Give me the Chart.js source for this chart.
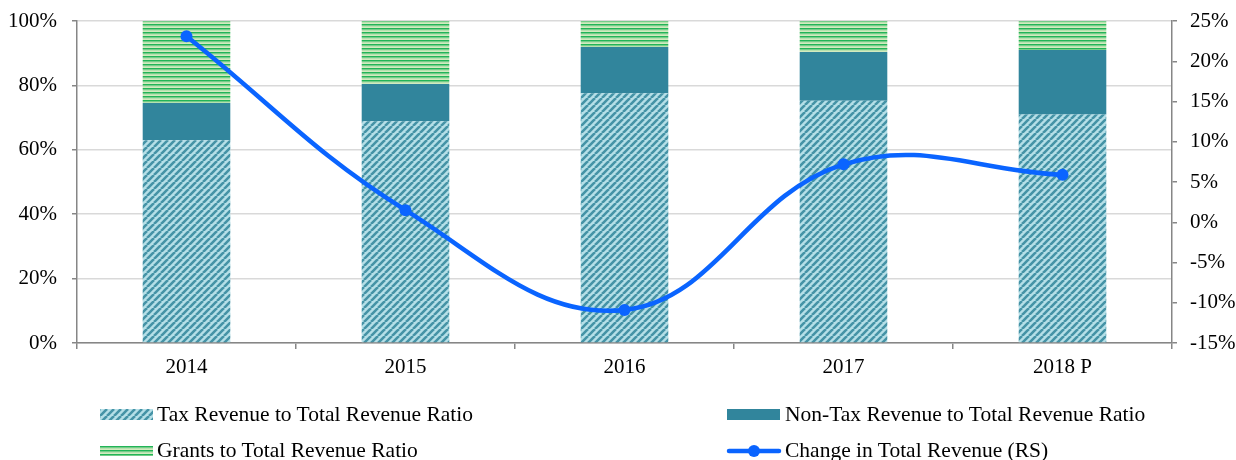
<!DOCTYPE html>
<html>
<head>
<meta charset="utf-8">
<script src="https://cdn.jsdelivr.net/npm/chart.js@4.4.1/dist/chart.umd.min.js"></script>
<style>
  html, body { margin: 0; padding: 0; background: #ffffff; }
  #wrap { position: relative; width: 1236px; height: 460px; }
  #chart { position: absolute; left: 0; top: 0; }
  .leg { position: absolute; font-family: "Liberation Serif", "Times New Roman", serif; font-size: 21.5px; color: #000; white-space: nowrap; line-height: 24px; }
  .sw { position: absolute; }
</style>
</head>
<body>
<div id="wrap">
  <canvas id="chart" width="1236" height="460"></canvas>
  <canvas class="sw" id="swTax" width="53" height="11" style="left:100px;top:409px;"></canvas>
  <div class="leg" style="left:157px;top:402px;">Tax Revenue to Total Revenue Ratio</div>
  <canvas class="sw" id="swNon" width="53" height="11" style="left:727px;top:409px;"></canvas>
  <div class="leg" style="left:785px;top:402px;">Non-Tax Revenue to Total Revenue Ratio</div>
  <canvas class="sw" id="swGr" width="53" height="10" style="left:100px;top:446px;"></canvas>
  <div class="leg" style="left:157px;top:438px;">Grants to Total Revenue Ratio</div>
  <canvas class="sw" id="swLine" width="56" height="14" style="left:726px;top:444px;"></canvas>
  <div class="leg" style="left:785px;top:438px;">Change in Total Revenue (RS)</div>
</div>
<script>
const categories = ['2014', '2015', '2016', '2017', '2018 P'];
const taxRatio = [63.0, 68.9, 77.6, 75.2, 71.0];
const nonTaxRatio = [11.5, 11.5, 14.3, 15.2, 20.0];
const grantsRatio = [25.5, 19.6, 8.1, 9.6, 9.0];
const revenueChange = [23.1, 1.5, -10.9, 7.2, 5.9];

const leftTicks = [0, 20, 40, 60, 80, 100];
const rightTicks = [-15, -10, -5, 0, 5, 10, 15, 20, 25];

const LINE_COLOR = '#0a64ff';
const NONTAX_COLOR = '#31859c';
const AXIS_COLOR = '#868686';
const GRID_COLOR = '#d9d9d9';
const FONT = { family: '"Liberation Serif", "Times New Roman", serif', size: 21 };

function diagTile() {
  const s = 7;
  const c = document.createElement('canvas');
  c.width = s; c.height = s;
  const g = c.getContext('2d');
  g.fillStyle = '#b5dfe7';
  g.fillRect(0, 0, s, s);
  g.strokeStyle = '#4593a6';
  g.lineWidth = 2.6;
  g.beginPath();
  for (const k of [-s, 0, s]) { g.moveTo(k, s); g.lineTo(k + s, 0); }
  g.stroke();
  return c;
}
function horizTile() {
  const c = document.createElement('canvas');
  c.width = 4; c.height = 4;
  const g = c.getContext('2d');
  g.fillStyle = '#d2eabf'; g.fillRect(0, 0, 4, 4);
  g.fillStyle = '#22b457'; g.fillRect(0, 0, 4, 1.6);
  g.fillStyle = '#8ad496'; g.fillRect(0, 1.6, 4, 0.8);
  return c;
}
const ctx = document.getElementById('chart').getContext('2d');
const taxPattern = ctx.createPattern(diagTile(), 'repeat');
const grantPattern = ctx.createPattern(horizTile(), 'repeat');

// legend swatches
(function () {
  const a = document.getElementById('swTax').getContext('2d');
  a.fillStyle = a.createPattern(diagTile(), 'repeat'); a.fillRect(0, 0, 53, 11);
  const b = document.getElementById('swNon').getContext('2d');
  b.fillStyle = NONTAX_COLOR; b.fillRect(0, 0, 53, 11);
  const c = document.getElementById('swGr').getContext('2d');
  c.fillStyle = c.createPattern(horizTile(), 'repeat'); c.fillRect(0, 0, 53, 10);
  const d = document.getElementById('swLine').getContext('2d');
  d.strokeStyle = LINE_COLOR; d.lineWidth = 4.5; d.lineCap = 'round';
  d.beginPath(); d.moveTo(3, 7); d.lineTo(53, 7); d.stroke();
  d.fillStyle = LINE_COLOR; d.beginPath(); d.arc(28, 7, 6, 0, Math.PI * 2); d.fill();
})();

function vFit(width) {
  return s => { s.width = width; s.paddingTop = 0; s.paddingBottom = 0; };
}

new Chart(ctx, {
  type: 'bar',
  data: {
    labels: categories,
    datasets: [
      { type: 'line', label: 'Change in Total Revenue (RS)', data: revenueChange, yAxisID: 'y2',
        borderColor: LINE_COLOR, backgroundColor: LINE_COLOR, borderWidth: 4.5, tension: 0.4,
        pointRadius: 6, pointHoverRadius: 6, pointBackgroundColor: LINE_COLOR, pointBorderWidth: 0, order: 0 },
      { label: 'Tax Revenue to Total Revenue Ratio', data: taxRatio, backgroundColor: taxPattern, yAxisID: 'y', stack: 's', order: 1 },
      { label: 'Non-Tax Revenue to Total Revenue Ratio', data: nonTaxRatio, backgroundColor: NONTAX_COLOR, yAxisID: 'y', stack: 's', order: 1 },
      { label: 'Grants to Total Revenue Ratio', data: grantsRatio, backgroundColor: grantPattern, yAxisID: 'y', stack: 's', order: 1 }
    ]
  },
  options: {
    responsive: false,
    animation: false,
    layout: { padding: { top: 21, right: 0, left: 0, bottom: 0 } },
    datasets: { bar: { categoryPercentage: 1.0, barPercentage: 0.4 } },
    plugins: { legend: { display: false }, tooltip: { enabled: false } },
    scales: {
      x: {
        stacked: true,
        offset: true,
        grid: { offset: true, drawOnChartArea: false, drawTicks: true, tickLength: 6, tickColor: AXIS_COLOR, lineWidth: 1.5 },
        border: { color: AXIS_COLOR, width: 1.5 },
        ticks: { color: '#000', font: FONT, padding: 6, maxRotation: 0 },
        afterFit: s => { s.height = 117; s.paddingLeft = 0; s.paddingRight = 0; }
      },
      y: {
        stacked: true,
        position: 'left',
        min: 0, max: 100,
        afterBuildTicks: s => { s.ticks = leftTicks.map(v => ({ value: v })); },
        grid: { color: GRID_COLOR, lineWidth: 1.5, tickLength: 5, tickColor: AXIS_COLOR },
        border: { color: AXIS_COLOR, width: 1.5 },
        ticks: { color: '#000', font: FONT, padding: 15, callback: v => v + '%' },
        afterFit: vFit(77)
      },
      y2: {
        position: 'right',
        min: -15, max: 25,
        afterBuildTicks: s => { s.ticks = rightTicks.map(v => ({ value: v })); },
        grid: { drawOnChartArea: false, tickLength: 5, tickColor: AXIS_COLOR, lineWidth: 1.5 },
        border: { color: AXIS_COLOR, width: 1.5 },
        ticks: { color: '#000', font: FONT, padding: 13, callback: v => v + '%' },
        afterFit: vFit(64)
      }
    }
  }
});
</script>
</body>
</html>
